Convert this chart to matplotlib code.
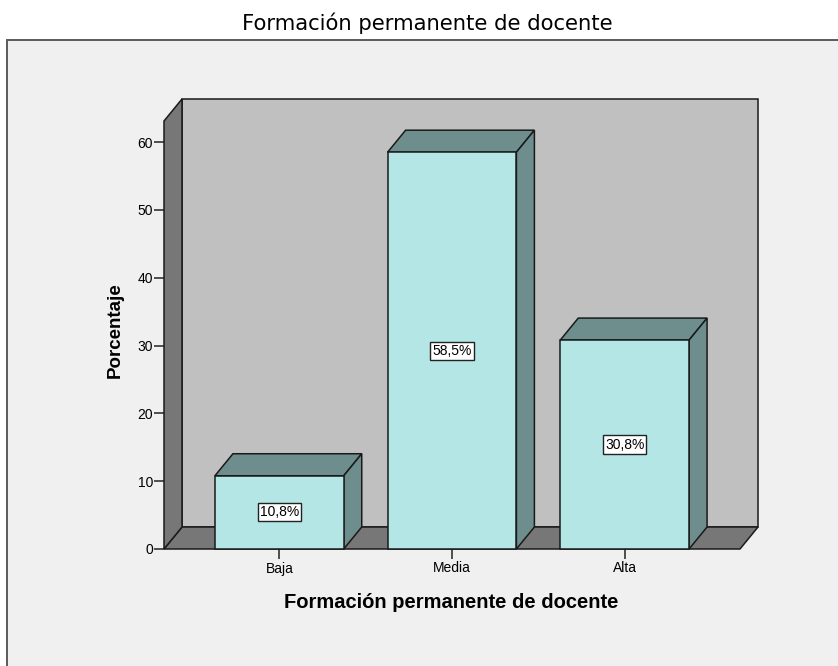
import matplotlib
matplotlib.use("Agg")
import matplotlib.pyplot as plt
from matplotlib.patches import Polygon, Rectangle

categories = ["Baja", "Media", "Alta"]
values = [10.8, 58.5, 30.8]
value_labels = ["10,8%", "58,5%", "30,8%"]
yticks = [0, 10, 20, 30, 40, 50, 60]

W, H = 838, 666
plt.rcParams["font.family"] = ["Liberation Sans", "DejaVu Sans"]
fig = plt.figure(figsize=(W / 100, H / 100), dpi=100, facecolor="white")

# outer frame
frame = Rectangle((7 / W, -0.05), (W - 7) / W + 0.05, 1 - 40 / H + 0.05,
                  transform=fig.transFigure, facecolor="#F0F0F0",
                  edgecolor="#5a5a5a", linewidth=1.4, zorder=-5)
fig.add_artist(frame)

# axes: front plane
px_left, px_right, px_bottom, px_top = 164, 740, 549, 121
ax = fig.add_axes([px_left / W, 1 - px_bottom / H, (px_right - px_left) / W, (px_bottom - px_top) / H])
ax.set_zorder(1)
ax.set_facecolor("none")
x0, x1 = -0.668, 2.668
ymax = 63.1
ax.set_xlim(x0, x1)
ax.set_ylim(0, ymax)
for s in ax.spines.values():
    s.set_visible(False)

# depth offset in data units
dx = 18 / ((px_right - px_left) / (x1 - x0))
dy = 22 / ((px_bottom - px_top) / ymax)

lw = 1.1
ec = "#1a1a1a"
wall_dark = "#777777"
wall_back = "#C0C0C0"
bar_front = "#B5E6E6"
bar_side = "#6E8E8E"

# back wall
ax.add_patch(Polygon([(x0 + dx, dy), (x1 + dx, dy), (x1 + dx, ymax + dy), (x0 + dx, ymax + dy)],
                     closed=True, facecolor=wall_back, edgecolor=ec, lw=lw, clip_on=False, zorder=1))
# floor
ax.add_patch(Polygon([(x0, 0), (x1, 0), (x1 + dx, dy), (x0 + dx, dy)],
                     closed=True, facecolor=wall_dark, edgecolor=ec, lw=lw, clip_on=False, zorder=2))
# left wall
ax.add_patch(Polygon([(x0, 0), (x0, ymax), (x0 + dx, ymax + dy), (x0 + dx, dy)],
                     closed=True, facecolor=wall_dark, edgecolor=ec, lw=lw, clip_on=False, zorder=2))

bw = 0.746
for i, (v, lab) in enumerate(zip(values, value_labels)):
    l, r = i - bw / 2, i + bw / 2
    ax.add_patch(Polygon([(l, v), (r, v), (r + dx, v + dy), (l + dx, v + dy)], closed=True,
                         facecolor=bar_side, edgecolor=ec, lw=lw, clip_on=False, zorder=3))
    ax.add_patch(Polygon([(r, 0), (r + dx, dy), (r + dx, v + dy), (r, v)], closed=True,
                         facecolor=bar_side, edgecolor=ec, lw=lw, clip_on=False, zorder=3))
    ax.add_patch(Rectangle((l, 0), bw, v, facecolor=bar_front, edgecolor=ec, lw=lw,
                           clip_on=False, zorder=4))
    ax.text(i, v / 2, lab, ha="center", va="center", fontsize=10, zorder=6,
            bbox=dict(boxstyle="square,pad=0.15", facecolor="white", edgecolor="#222222", lw=1.0))

ax.set_xticks(range(len(categories)))
ax.set_xticklabels(categories)
ax.set_yticks(yticks)
ax.tick_params(axis="x", length=7, width=1.2, labelsize=10, pad=2, color="#333333")
ax.tick_params(axis="y", length=7, width=1.2, labelsize=10, pad=1, color="#333333")

fig.text(427 / W, 1 - 23 / H, "Formación permanente de docente", ha="center", va="center",
         fontsize=15.2, family=["DejaVu Sans"])
fig.text(451 / W, 1 - 602 / H, "Formación permanente de docente", ha="center", va="center",
         fontsize=14.5, fontweight="bold")
fig.text(115 / W, 1 - 330 / H, "Porcentaje", ha="center", va="center", rotation=90,
         fontsize=13.5, fontweight="bold")

fig.savefig("out.png", dpi=100, facecolor="white")
